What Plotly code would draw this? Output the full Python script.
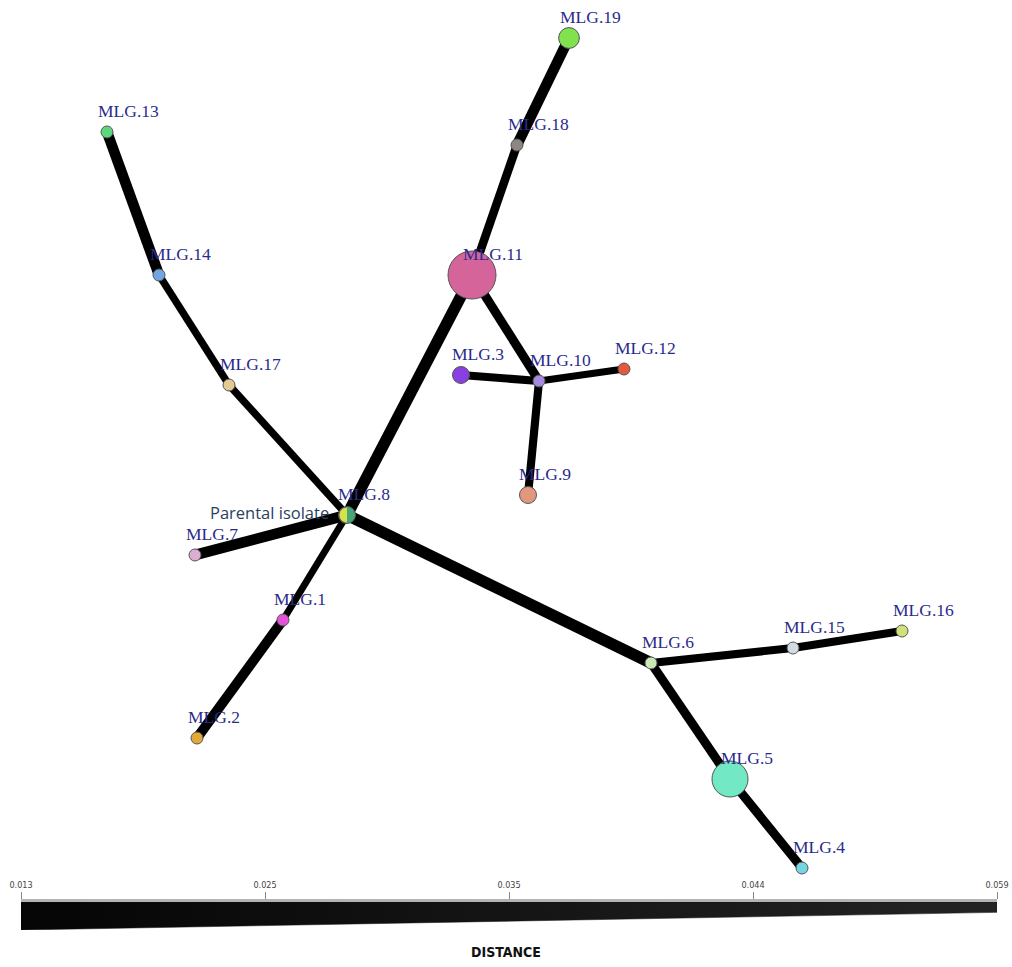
import numpy as np
import plotly.graph_objects as go

# ---------------- data ----------------
node_names = ["MLG.1", "MLG.2", "MLG.3", "MLG.4", "MLG.5", "MLG.6", "MLG.7", "MLG.8",
              "MLG.9", "MLG.10", "MLG.11", "MLG.12", "MLG.13", "MLG.14", "MLG.15",
              "MLG.16", "MLG.17", "MLG.18", "MLG.19"]
# layout coordinates of the network
node_x = [283, 197, 461, 802, 730, 651, 195, 347, 528, 539, 472, 624, 107, 159, 793, 902, 229, 517, 569]
node_y = [620, 738, 375, 868, 779, 663, 555, 515, 495, 381, 275, 369, 132, 275, 648, 631, 385, 145, 38]
# number of isolates per MLG (node size)
node_count = [1, 1, 2, 1, 9, 1, 1, 2, 2, 1, 16, 1, 1, 1, 1, 1, 1, 1, 3]

edge_from = ["MLG.19", "MLG.18", "MLG.11", "MLG.11", "MLG.3", "MLG.10", "MLG.10", "MLG.13", "MLG.14",
             "MLG.17", "MLG.8", "MLG.8", "MLG.1", "MLG.8", "MLG.6", "MLG.15", "MLG.6", "MLG.5"]
edge_to = ["MLG.18", "MLG.11", "MLG.8", "MLG.10", "MLG.10", "MLG.12", "MLG.9", "MLG.14", "MLG.17",
           "MLG.8", "MLG.7", "MLG.1", "MLG.2", "MLG.6", "MLG.15", "MLG.16", "MLG.5", "MLG.4"]
edge_distance = [0.021, 0.040, 0.013, 0.036, 0.044, 0.055, 0.044, 0.021, 0.051,
                 0.051, 0.021, 0.055, 0.028, 0.013, 0.044, 0.044, 0.036, 0.036]

scale_ticks = ["0.013", "0.025", "0.035", "0.044", "0.059"]
parent_label = "Parental isolate"
parent_node = "MLG.8"
axis_title = "DISTANCE"

# ---------------- styles ----------------
node_colors = {
    "MLG.1": "#e352d8", "MLG.2": "#e2a83a", "MLG.3": "#8a3fe2", "MLG.4": "#74d6e2",
    "MLG.5": "#72e8c4", "MLG.6": "#c8e8b6", "MLG.7": "#dcaed2", "MLG.8": "#45a676",
    "MLG.9": "#e2987c", "MLG.10": "#a78ae0", "MLG.11": "#d4649a", "MLG.12": "#e25a3e",
    "MLG.13": "#5ed67c", "MLG.14": "#72a6e2", "MLG.15": "#d2dae2", "MLG.16": "#d2e07a",
    "MLG.17": "#e2ca92", "MLG.18": "#8e8682", "MLG.19": "#80e24c",
}
pie_second = "#d8e04c"
label_color = "#2b2b8c"
W, H = 1012, 967

idx = {n: i for i, n in enumerate(node_names)}
dmin, dmax = 0.013, 0.059


def edge_width(d):
    return 11.5 - (d - dmin) / (dmax - dmin) * 5.0


def diam(c):
    return 12 * np.sqrt(c)


fig = go.Figure()

# edges
for a, b, d in zip(edge_from, edge_to, edge_distance):
    i, j = idx[a], idx[b]
    fig.add_trace(go.Scatter(
        x=[node_x[i], node_x[j]], y=[node_y[i], node_y[j]], mode="lines",
        line=dict(color="black", width=edge_width(d)), hoverinfo="skip",
        showlegend=False, xaxis="x", yaxis="y"))

# nodes
fig.add_trace(go.Scatter(
    x=node_x, y=node_y, mode="markers", text=node_names, hoverinfo="text",
    marker=dict(size=[diam(c) for c in node_count],
                color=[node_colors[n] for n in node_names],
                line=dict(color="#555555", width=1), opacity=1),
    showlegend=False, xaxis="x", yaxis="y"))

# half of the parental node in second colour (pie)
pi_ = idx[parent_node]
r = diam(node_count[pi_]) / 2 - 0.5
t = np.linspace(np.pi / 2, 3 * np.pi / 2, 40)
fig.add_trace(go.Scatter(
    x=list(node_x[pi_] + r * np.cos(t)), y=list(node_y[pi_] - r * np.sin(t)),
    mode="lines", fill="toself", fillcolor=pie_second,
    line=dict(color="#555555", width=0.8), hoverinfo="skip",
    showlegend=False, xaxis="x", yaxis="y"))

# labels
for n, x, y in zip(node_names, node_x, node_y):
    fig.add_annotation(x=x, y=y, xref="x", yref="y", text=n, showarrow=False,
                       xanchor="left", yanchor="bottom", xshift=-11, yshift=9,
                       font=dict(family="Liberation Serif, Times New Roman, serif",
                                 size=17.5, color=label_color))
fig.add_annotation(x=node_x[pi_], y=node_y[pi_], xref="x", yref="y", text=parent_label,
                   showarrow=False, xanchor="right", yanchor="middle", xshift=-16, yshift=3,
                   font=dict(family="Open Sans, Arial, sans-serif", size=16.5, color="#2a3f5f"))

# scale bar (wedge) on its own axes
xs = list(range(len(scale_ticks)))
x_lo, x_hi = xs[0], xs[-1]
fig.add_trace(go.Scatter(
    x=[x_lo, x_hi, x_hi, x_lo, x_lo], y=[0, 0, -0.37, -1, 0], mode="lines",
    fill="toself", line=dict(width=0.5, color="#111111"),
    fillgradient=dict(type="horizontal", colorscale=[[0, "#050505"], [1, "#242424"]]),
    hoverinfo="skip", showlegend=False, xaxis="x2", yaxis="y2"))

fig.update_layout(
    width=W, height=H, margin=dict(l=0, r=0, t=0, b=0, autoexpand=False),
    paper_bgcolor="white", plot_bgcolor="rgba(0,0,0,0)",
    xaxis=dict(range=[0, W], domain=[0, 1], visible=False, fixedrange=True, automargin=False),
    yaxis=dict(range=[H, 0], domain=[0, 1], visible=False, fixedrange=True, automargin=False),
    xaxis2=dict(range=[x_lo, x_hi], domain=[21 / W, 997 / W], anchor="y2", side="top",
                tickvals=xs, ticktext=scale_ticks, ticks="outside", ticklen=7,
                tickcolor="#888888", tickwidth=1, showline=True, linecolor="#b4b4b4",
                linewidth=3, showgrid=False, zeroline=False, automargin=False,
                tickfont=dict(family="DejaVu Sans Condensed, Liberation Sans Narrow, Arial",
                              size=9, color="#444444")),
    yaxis2=dict(range=[-1, 0], domain=[(H - 930) / H, (H - 902) / H], anchor="x2",
                visible=False, automargin=False),
    showlegend=False,
)
fig.add_annotation(x=0.5, y=(H - 952) / H, xref="paper", yref="paper", text="<b>" + axis_title + "</b>",
                   showarrow=False, yanchor="middle",
                   font=dict(family="DejaVu Sans Condensed, Liberation Sans Narrow, Arial",
                             size=14, color="#111111"))

fig.write_html("out.html", config={"displayModeBar": False},
               post_script="document.body.style.margin='0';document.body.style.overflow='hidden';")
